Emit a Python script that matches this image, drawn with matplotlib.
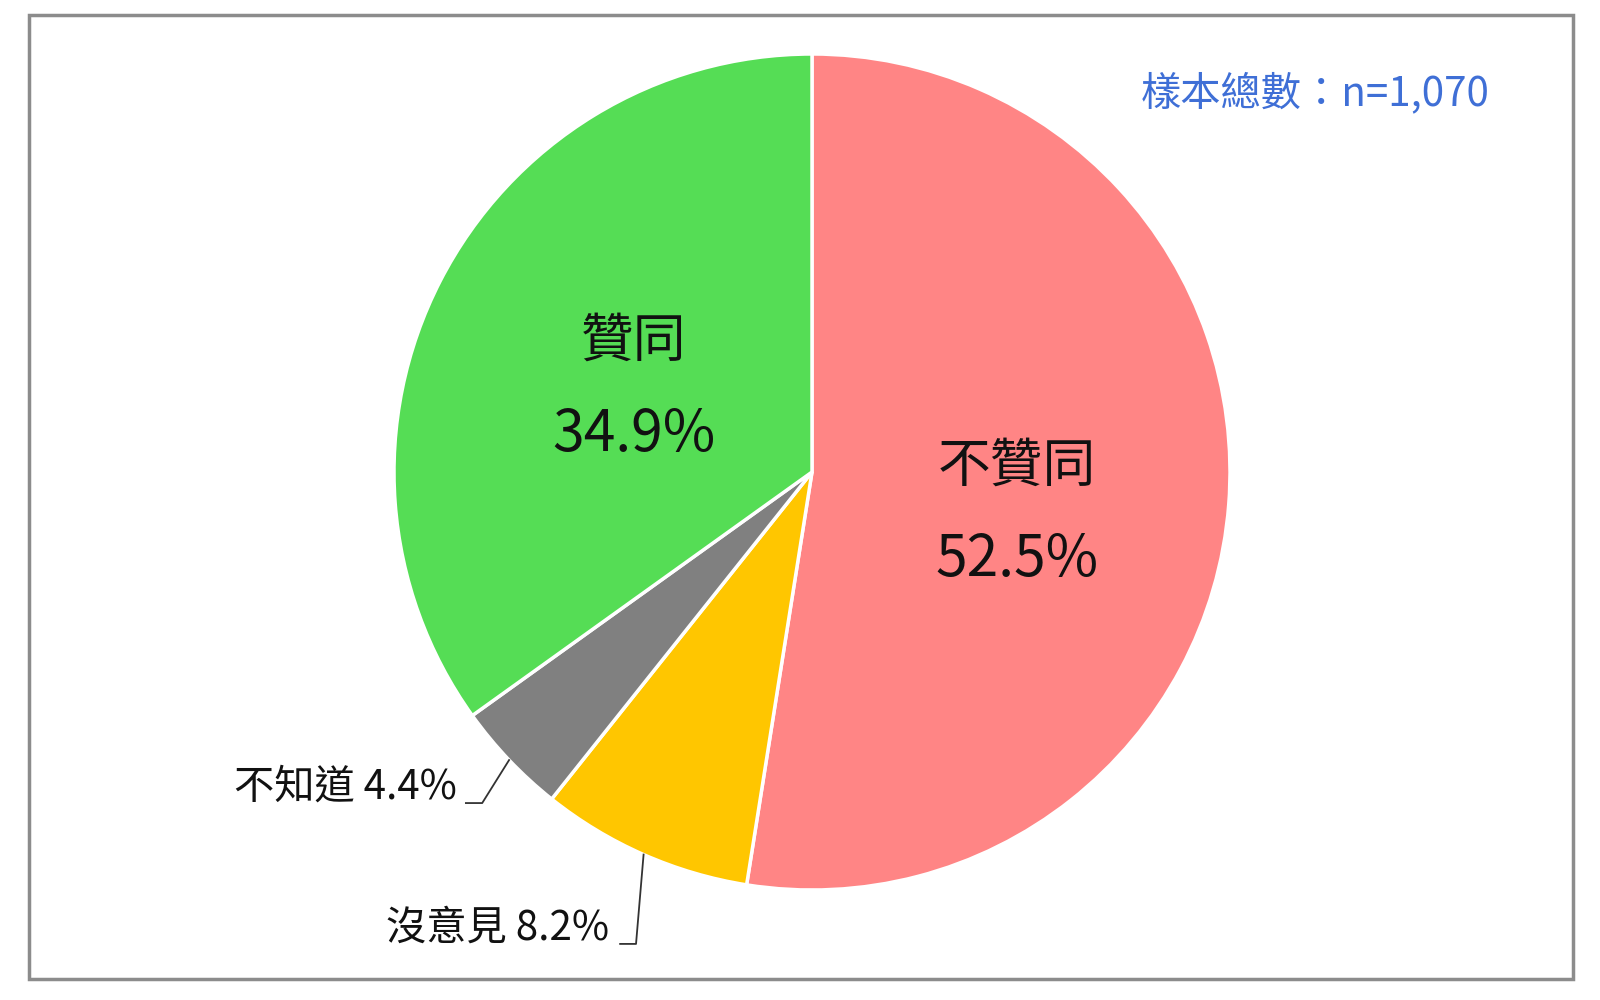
import matplotlib.pyplot as plt
from matplotlib.patches import Rectangle
import numpy as np

plt.rcParams['font.family'] = ['Noto Sans CJK TC', 'DejaVu Sans']

# 資料
labels = ['不贊同', '沒意見', '不知道', '贊同']
values = [52.5, 8.2, 4.4, 34.9]
colors = ['#FF8585', '#FFC600', '#808080', '#55DD55']
sample_note = '樣本總數：n=1,070'

W, H = 1600, 1000
cx, cy, R = 812, 472, 418  # 圓心與半徑 (px)

fig = plt.figure(figsize=(16, 10), dpi=100)
fig.patch.set_facecolor('white')
ax = fig.add_axes([0, 0, 1, 1])

wedges, _ = ax.pie(values, colors=colors, startangle=90, counterclock=False,
                   radius=1, center=(0, 0),
                   wedgeprops=dict(edgecolor='white', linewidth=2.5))
ax.set_xlim(-cx / R, (W - cx) / R)
ax.set_ylim(-(H - cy) / R, cy / R)
ax.set_aspect('equal')
ax.axis('off')

# 扇形中間角度
mids = [np.deg2rad((w.theta1 + w.theta2) / 2) for w in wedges]

# 大標籤（扇形內）
inner = {0: (0.50, -0.12, 0.0), 3: (0.48, 0.0, -0.018)}
for i, (r, dang, dy) in inner.items():
    a = mids[i] + dang
    x, y = r * np.cos(a), r * np.sin(a) + dy
    ax.text(x, y + 0.112, labels[i], ha='center', va='center',
            fontsize=38, fontweight='medium', color='#111111')
    ax.text(x, y - 0.112, f'{values[i]}%', ha='center', va='center',
            fontsize=41, fontweight='medium', color='#111111')

# 小標籤（引線）
def leader(i, knee, end, text_xy):
    a = mids[i]
    ex, ey = np.cos(a), np.sin(a)
    ax.plot([ex, knee[0], end[0]], [ey, knee[1], end[1]],
            color='#333333', lw=1.3, clip_on=False)
    ax.text(text_xy[0], text_xy[1], f'{labels[i]} {values[i]}%',
            ha='right', va='center', fontsize=29, fontweight='medium',
            color='#111111')

leader(2, (-0.789, -0.792), (-0.828, -0.792), (-0.85, -0.754))
leader(1, (-0.421, -1.129), (-0.459, -1.129), (-0.486, -1.091))

# 樣本數
fig.text(1490 / W, 1 - 93 / H, sample_note, ha='right', va='center',
         fontsize=29, fontweight='medium', color='#3F6FD6')

# 外框
fig.add_artist(Rectangle((29 / W, 1 - 979 / H), 1544 / W, 964 / H,
                         transform=fig.transFigure, fill=False,
                         edgecolor='#8C8C8C', linewidth=2.5))

fig.savefig('out.png', dpi=100)
